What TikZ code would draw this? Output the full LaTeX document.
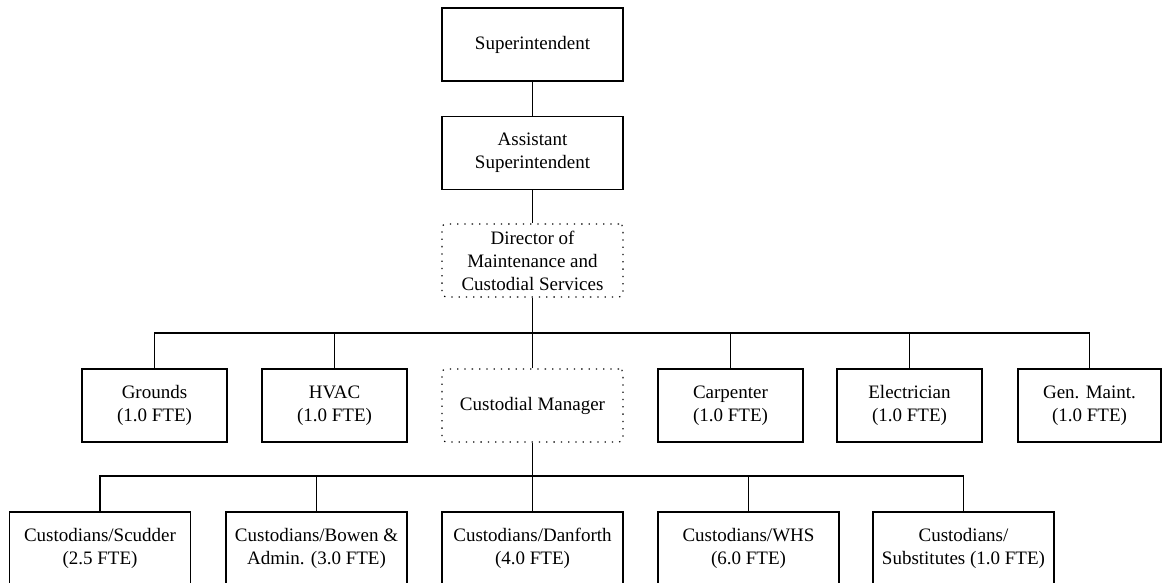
\documentclass[tikz,border=0pt]{standalone}
\usepackage{fontspec}
\setmainfont{Liberation Serif}
\usetikzlibrary{positioning}

\begin{document}
\begin{tikzpicture}[x=1pt,y=-1pt,line width=1.2pt,
  box/.style={draw,minimum width=181pt,minimum height=73pt,inner sep=0pt,align=center,font=\fontsize{19}{23}\selectfont},
  small/.style={box,minimum width=145pt},
  vacant/.style={dash pattern=on 1.3pt off 6pt,rounded corners=4pt}]
  \clip (0,0) rectangle (1162,582);
  \node[box] (supt) at (532.5,44.5) {Superintendent};
  \node[box] (asst) at (532.5,153) {Assistant\\Superintendent};
  \node[box,vacant] (dir) at (532.5,260.5) {Director of\\Maintenance and\\Custodial Services};
  \node[small] (grounds) at (154.5,405.5) {Grounds\\(1.0 FTE)};
  \node[small] (hvac) at (334.5,405.5) {HVAC\\(1.0 FTE)};
  \node[box,vacant] (cmgr) at (532.5,405.5) {Custodial Manager};
  \node[small] (carp) at (730.5,405.5) {Carpenter\\(1.0 FTE)};
  \node[small] (elec) at (909.5,405.5) {Electrician\\(1.0 FTE)};
  \node[small,minimum width=143pt] (genm) at (1089.5,405.5) {Gen. Maint.\\(1.0 FTE)};
  \node[box] (scud) at (100,548.5) {Custodians/Scudder\\(2.5 FTE)};
  \node[box] (bowen) at (316.5,548.5) {Custodians/Bowen \&\\Admin. (3.0 FTE)};
  \node[box] (danf) at (532.5,548.5) {Custodians/Danforth\\(4.0 FTE)};
  \node[box] (whs) at (748.5,548.5) {Custodians/WHS\\(6.0 FTE)};
  \node[box] (subs) at (963.5,548.5) {Custodians/\\Substitutes (1.0 FTE)};
  \coordinate (bus1) at (532.5,333);
  \coordinate (bus2) at (532.5,476);
  \draw (supt) -- (asst);
  \draw (asst) -- (dir);
  \draw (dir) -- (bus1);
  \foreach \n in {grounds,hvac,cmgr,carp,elec,genm}
    \draw (\n.north) |- (bus1);
  \draw (cmgr) -- (bus2);
  \foreach \n in {scud,bowen,danf,whs,subs}
    \draw (\n.north) |- (bus2);
\end{tikzpicture}
\end{document}
